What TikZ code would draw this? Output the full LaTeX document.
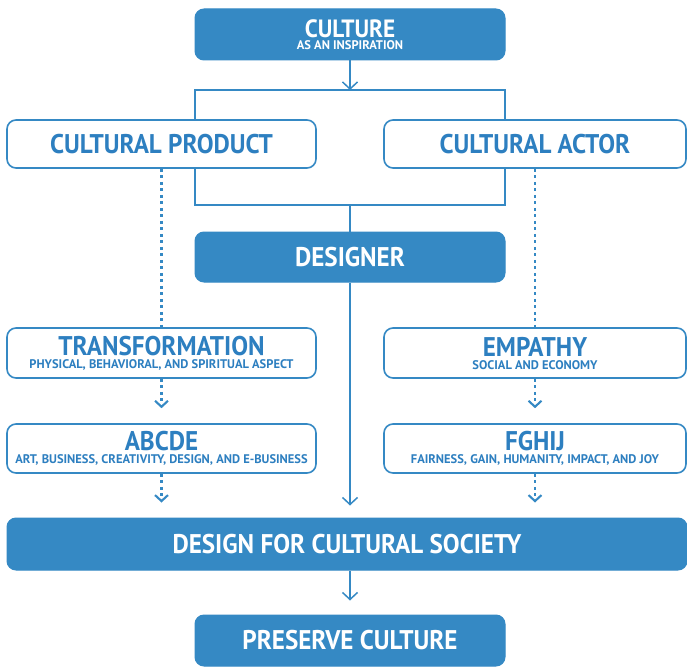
\documentclass[tikz,border=0pt]{standalone}
\usepackage{fontspec}
\newfontfamily\headfont{PT Sans}[FakeStretch=0.93]
\newfontfamily\subfont{PT Sans}
\usetikzlibrary{arrows.meta, positioning, calc}
\definecolor{culblue}{RGB}{53,137,196}
\definecolor{cultext}{RGB}{45,127,192}

\begin{document}
\begin{tikzpicture}[
  x=1pt,y=-1pt,
  solidbox/.style={
    rectangle, rounded corners=9pt, line width=1pt,
    draw=culblue, fill=culblue, text=white,
    align=center, font=\headfont\bfseries
  },
  openbox/.style={
    rectangle, rounded corners=9pt, line width=1.6pt,
    draw=culblue, fill=white, text=cultext,
    align=center, font=\headfont\bfseries
  },
  link/.style={draw=culblue, line width=1.5pt},
  arrow/.style={link, -{Straight Barb[length=7pt,width=15pt]}},
  dotlink/.style={link, line width=2.1pt, dash pattern=on 2.8pt off 3.7pt},
  dotarrow/.style={dotlink, -{Straight Barb[length=6pt,width=13pt]}}
]
\useasboundingbox (0,0) rectangle (687,666);

% ---- Top: source of inspiration ----
\node[solidbox, minimum width=310pt, minimum height=51pt] (culture) at (350,34.5)
  {\fontsize{25}{25}\selectfont CULTURE\\[0.5pt]\subfont\bfseries\fontsize{12.5}{12.5}\selectfont AS AN INSPIRATION};

% ---- Second row: product and actor ----
\node[openbox, minimum width=309pt, minimum height=48pt] (product) at (161.5,144)
  {\fontsize{27}{27}\selectfont CULTURAL PRODUCT};
\node[openbox, minimum width=302pt, minimum height=48pt] (actor) at (535,144)
  {\fontsize{27}{27}\selectfont CULTURAL ACTOR};

% ---- Designer in the middle ----
\node[solidbox, minimum width=310pt, minimum height=50pt] (designer) at (350,257)
  {\fontsize{27}{27}\selectfont DESIGNER};

% ---- Two columns of aspects ----
\node[openbox, minimum width=309pt, minimum height=50pt] (transf) at (161.5,353)
  {\fontsize{27}{27}\selectfont TRANSFORMATION\\[1pt]\subfont\bfseries\fontsize{12.5}{12.5}\selectfont PHYSICAL, BEHAVIORAL, AND SPIRITUAL ASPECT};
\node[openbox, minimum width=302pt, minimum height=50pt] (empathy) at (535,353)
  {\fontsize{27}{27}\selectfont EMPATHY\\[1pt]\subfont\bfseries\fontsize{12.5}{12.5}\selectfont SOCIAL AND ECONOMY};
\node[openbox, minimum width=309pt, minimum height=49pt] (abcde) at (161.5,448.5)
  {\fontsize{27}{27}\selectfont ABCDE\\[1pt]\subfont\bfseries\fontsize{12.5}{12.5}\selectfont ART, BUSINESS, CREATIVITY, DESIGN, AND E-BUSINESS};
\node[openbox, minimum width=302pt, minimum height=49pt] (fghij) at (535,448.5)
  {\fontsize{27}{27}\selectfont FGHIJ\\[1pt]\subfont\bfseries\fontsize{12.5}{12.5}\selectfont FAIRNESS, GAIN, HUMANITY, IMPACT, AND JOY};

% ---- Bottom: outcome ----
\node[solidbox, minimum width=680pt, minimum height=52pt] (society) at (347,544)
  {\fontsize{27}{27}\selectfont DESIGN FOR CULTURAL SOCIETY};
\node[solidbox, minimum width=310pt, minimum height=51pt] (preserve) at (350,640.5)
  {\fontsize{27}{27}\selectfont PRESERVE CULTURE};

% ---- Split from culture into the two branches ----
\coordinate (split)  at (350,90);
\coordinate (splitL) at (195,90);
\coordinate (splitR) at (505,90);
\draw[arrow] (culture) -- (split);
\draw[link] (product.north -| splitL) -- (splitL) -- (splitR) -- (actor.north -| splitR);

% ---- Join of the two branches into the designer ----
\coordinate (join)  at (350,205);
\coordinate (joinL) at (195,205);
\coordinate (joinR) at (505,205);
\draw[link] (product.south -| joinL) -- (joinL) -- (joinR) -- (actor.south -| joinR);
\draw[link] (join) -- (designer);

% ---- Designer straight down ----
\draw[arrow, shorten >=12pt] (designer) -- (designer |- society.north);
\draw[arrow, shorten >=14pt] (society.south -| preserve) -- (preserve);

% ---- Dotted columns ----
\draw[dotlink, xshift=-1pt] (product) -- (transf);
\draw[dotlink, xshift=4pt] (actor) -- (empathy);
\draw[dotarrow, xshift=-1pt, shorten >=15pt] (transf) -- (abcde);
\draw[dotarrow, xshift=4pt, shorten >=15pt] (empathy) -- (fghij);
\draw[dotarrow, xshift=-1pt, shorten >=15pt] (abcde) -- (society.north -| abcde);
\draw[dotarrow, xshift=4pt, shorten >=15pt] (fghij) -- (society.north -| fghij);

\end{tikzpicture}
\end{document}
